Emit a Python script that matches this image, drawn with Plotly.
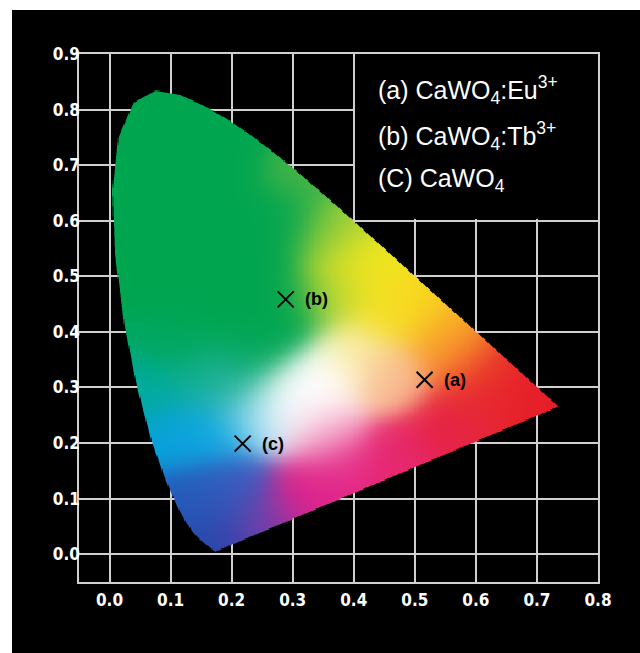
import numpy as np
import plotly.graph_objects as go

# CIE 1931 spectral locus (380-700 nm, 5 nm steps)
locus_x = [0.1741, 0.1740, 0.1738, 0.1736, 0.1733, 0.1730, 0.1726, 0.1721, 0.1714, 0.1703,
           0.1689, 0.1669, 0.1644, 0.1611, 0.1566, 0.1510, 0.1440, 0.1355, 0.1241, 0.1096,
           0.0913, 0.0687, 0.0454, 0.0235, 0.0082, 0.0039, 0.0139, 0.0389, 0.0743, 0.1142,
           0.1547, 0.1929, 0.2296, 0.2658, 0.3016, 0.3373, 0.3731, 0.4087, 0.4441, 0.4788,
           0.5125, 0.5448, 0.5752, 0.6029, 0.6270, 0.6482, 0.6658, 0.6801, 0.6915, 0.7006,
           0.7079, 0.7140, 0.7190, 0.7230, 0.7260, 0.7283, 0.7300, 0.7311, 0.7320, 0.7327,
           0.7334, 0.7340, 0.7344, 0.7346, 0.7347]
locus_y = [0.0050, 0.0050, 0.0049, 0.0049, 0.0048, 0.0048, 0.0048, 0.0048, 0.0051, 0.0058,
           0.0069, 0.0086, 0.0109, 0.0138, 0.0177, 0.0227, 0.0297, 0.0399, 0.0578, 0.0868,
           0.1327, 0.2007, 0.2950, 0.4127, 0.5384, 0.6548, 0.7502, 0.8120, 0.8338, 0.8262,
           0.8059, 0.7816, 0.7543, 0.7243, 0.6923, 0.6589, 0.6245, 0.5896, 0.5547, 0.5202,
           0.4866, 0.4544, 0.4242, 0.3965, 0.3725, 0.3514, 0.3340, 0.3197, 0.3083, 0.2993,
           0.2920, 0.2859, 0.2809, 0.2770, 0.2740, 0.2717, 0.2700, 0.2689, 0.2680, 0.2673,
           0.2666, 0.2660, 0.2656, 0.2654, 0.2653]

# Sample chromaticity coordinates
sample_names = ["(a)", "(b)", "(c)"]
sample_x = [0.516, 0.2885, 0.218]
sample_y = [0.314, 0.4585, 0.199]

legend_lines = ["(a) CaWO<sub>4</sub>:Eu<sup>3+</sup>",
                "(b) CaWO<sub>4</sub>:Tb<sup>3+</sup>",
                "(C) CaWO<sub>4</sub>"]

x_ticks = [0.0, 0.1, 0.2, 0.3, 0.4, 0.5, 0.6, 0.7, 0.8]
x_tick_text = ["0.0", "0.1", "0.2", "0.3", "0.4", "0.5", "0.6", "0.7", "0.8"]
y_ticks = [0.0, 0.1, 0.2, 0.3, 0.4, 0.5, 0.6, 0.7, 0.8, 0.9]
y_tick_text = ["0.0", "0.1", "0.2", "0.3", "0.4", "0.5", "0.6", "0.7", "0.8", "0.9"]

# colour anchors of the stylised diagram (style, not data)
G = (0, 165, 80)
W = (255, 255, 255)
anchor_x = [0.05, 0.10, 0.18, 0.05, 0.15, 0.24, 0.22, 0.12, 0.25, 0.10, 0.20,
            0.26, 0.29, 0.29, 0.22,
            0.31, 0.36, 0.36, 0.42, 0.45, 0.50, 0.55, 0.57, 0.63, 0.70, 0.60,
            0.46, 0.40, 0.31, 0.345, 0.28, 0.38, 0.32, 0.47, 0.35, 0.55,
            0.25, 0.18, 0.15, 0.20, 0.17, 0.12, 0.235, 0.08, 0.15, 0.10, 0.19]
anchor_y = [0.75, 0.60, 0.65, 0.50, 0.45, 0.50, 0.40, 0.40, 0.60, 0.78, 0.72,
            0.39, 0.45, 0.60, 0.34,
            0.68, 0.58, 0.47, 0.52, 0.44, 0.45, 0.40, 0.36, 0.33, 0.28, 0.28,
            0.32, 0.36, 0.29, 0.31, 0.265, 0.15, 0.10, 0.17, 0.22, 0.22,
            0.05, 0.03, 0.10, 0.12, 0.22, 0.22, 0.25, 0.30, 0.32, 0.38, 0.30]
anchor_rgb = [G, G, G, G, G, G, G, G, G, G, G,
              G, G, G, (10, 170, 110),
              (70, 180, 70), (160, 208, 55), (185, 215, 50), (240, 230, 30), (245, 225, 35),
              (248, 215, 30), (250, 180, 40), (245, 130, 45), (232, 40, 40), (230, 30, 40),
              (230, 40, 50),
              (248, 185, 145), (250, 240, 170), W, W, W,
              (228, 40, 135), (220, 35, 140), (230, 40, 110), (245, 175, 205), (230, 35, 70),
              (120, 60, 170), (40, 70, 170), (35, 90, 185), (60, 90, 190), (10, 170, 230),
              (10, 160, 220), (150, 215, 240), (0, 170, 160), (20, 175, 140), (0, 168, 100),
              (40, 180, 170)]


def inside(px, py, vx, vy):
    res = np.zeros(px.shape, dtype=bool)
    n = len(vx)
    j = n - 1
    for i in range(n):
        xi, yi, xj, yj = vx[i], vy[i], vx[j], vy[j]
        cond = (yi > py) != (yj > py)
        den = (yj - yi) if abs(yj - yi) > 1e-12 else 1e-12
        xint = (xj - xi) * (py - yi) / den + xi
        res ^= cond & (px < xint)
        j = i
    return res


step = 0.002
x0 = step / 2
y0 = step / 2
nx = int(0.74 / step) + 1
ny = int(0.84 / step) + 1
xs = x0 + step * np.arange(nx)
ys = y0 + step * np.arange(ny)
X, Y = np.meshgrid(xs, ys)

vx = np.array(locus_x)
vy = np.array(locus_y)
alpha = np.zeros(X.shape)
ss = 3
for a in range(ss):
    for b in range(ss):
        ox = (a + 0.5) / ss * step - step / 2
        oy = (b + 0.5) / ss * step - step / 2
        alpha += inside(X + ox, Y + oy, vx, vy)
alpha /= ss * ss

ax = np.array(anchor_x)
ay = np.array(anchor_y)
ac = np.array(anchor_rgb, dtype=float)
sigma = 0.04
d2 = (X[..., None] - ax) ** 2 + (Y[..., None] - ay) ** 2
lg = -d2 / (2 * sigma ** 2)
lg -= lg.max(axis=-1, keepdims=True)
w = np.exp(lg)
w /= w.sum(axis=-1, keepdims=True)
rgb = np.einsum('ijk,kc->ijc', w, ac)
rgb = np.clip(np.rint(rgb), 0, 255).astype(int)

z = []
for i in range(ny):
    row = []
    for j in range(nx):
        al = float(alpha[i, j])
        if al <= 0:
            row.append([0, 0, 0, 0])
        else:
            r, g, bb = rgb[i, j]
            row.append([int(r), int(g), int(bb), round(al, 2)])
    z.append(row)

fig = go.Figure()
fig.add_trace(go.Image(z=z, colormodel='rgba', x0=x0, dx=step, y0=y0, dy=step,
                       hoverinfo='skip'))
fig.add_trace(go.Scatter(x=sample_x, y=sample_y, mode='markers',
                         marker=dict(symbol='x-thin', size=16, color='black',
                                     line=dict(width=2, color='black')),
                         showlegend=False, hoverinfo='skip'))

for name, sx, sy in zip(sample_names, sample_x, sample_y):
    fig.add_annotation(x=sx, y=sy, text="<b>%s</b>" % name, showarrow=False,
                       xanchor='left', yanchor='middle', xshift=17,
                       font=dict(family='Liberation Sans, Arial', size=18, color='black'))

legend_y = [0.835, 0.753, 0.674]
for txt, ly in zip(legend_lines, legend_y):
    fig.add_annotation(x=0.437, y=ly, text=txt, showarrow=False,
                       xanchor='left', yanchor='middle',
                       font=dict(family='Liberation Sans, Arial', size=25, color='white'))

# white page border on the left and top (outside the black panel)
fig.add_shape(type='rect', xref='paper', yref='paper', x0=-0.3, x1=-0.1291,
              y0=-0.3, y1=1.3, fillcolor='white', line=dict(width=0), layer='below')
fig.add_shape(type='rect', xref='paper', yref='paper', x0=-0.3, x1=1.3,
              y0=1.0833, y1=1.3, fillcolor='white', line=dict(width=0), layer='below')
# legend box
fig.add_shape(type='rect', xref='x', yref='y', x0=0.402, x1=0.8, y0=0.603, y1=0.9,
              fillcolor='black', line=dict(width=0), layer='between')

grid_c = '#d0d0d0'
tickfont = dict(family='DejaVu Sans Condensed', size=17, color='white', weight='bold')
fig.update_layout(
    width=640, height=653, autosize=False,
    margin=dict(l=79, r=42, t=54, b=71),
    paper_bgcolor='black', plot_bgcolor='black',
    showlegend=False,
    xaxis=dict(range=[-0.05, 0.8], tickvals=x_ticks, ticktext=x_tick_text,
               showgrid=True, gridcolor=grid_c, gridwidth=1.5, zeroline=False,
               showline=True, mirror=True, linecolor=grid_c, linewidth=1.5,
               ticks='', tickfont=tickfont, ticklabelstandoff=2, scaleanchor=False),
    yaxis=dict(range=[-0.05, 0.9], tickvals=y_ticks, ticktext=y_tick_text,
               autorange=False,
               showgrid=True, gridcolor=grid_c, gridwidth=1.5, zeroline=False,
               showline=True, mirror=True, linecolor=grid_c, linewidth=1.5,
               ticks='', tickfont=tickfont, ticklabelstandoff=-6, scaleanchor=False),
)

fig.write_html("out.html", config={'displayModeBar': False},
               post_script="document.body.style.margin='0px';document.body.style.overflow='hidden';")
